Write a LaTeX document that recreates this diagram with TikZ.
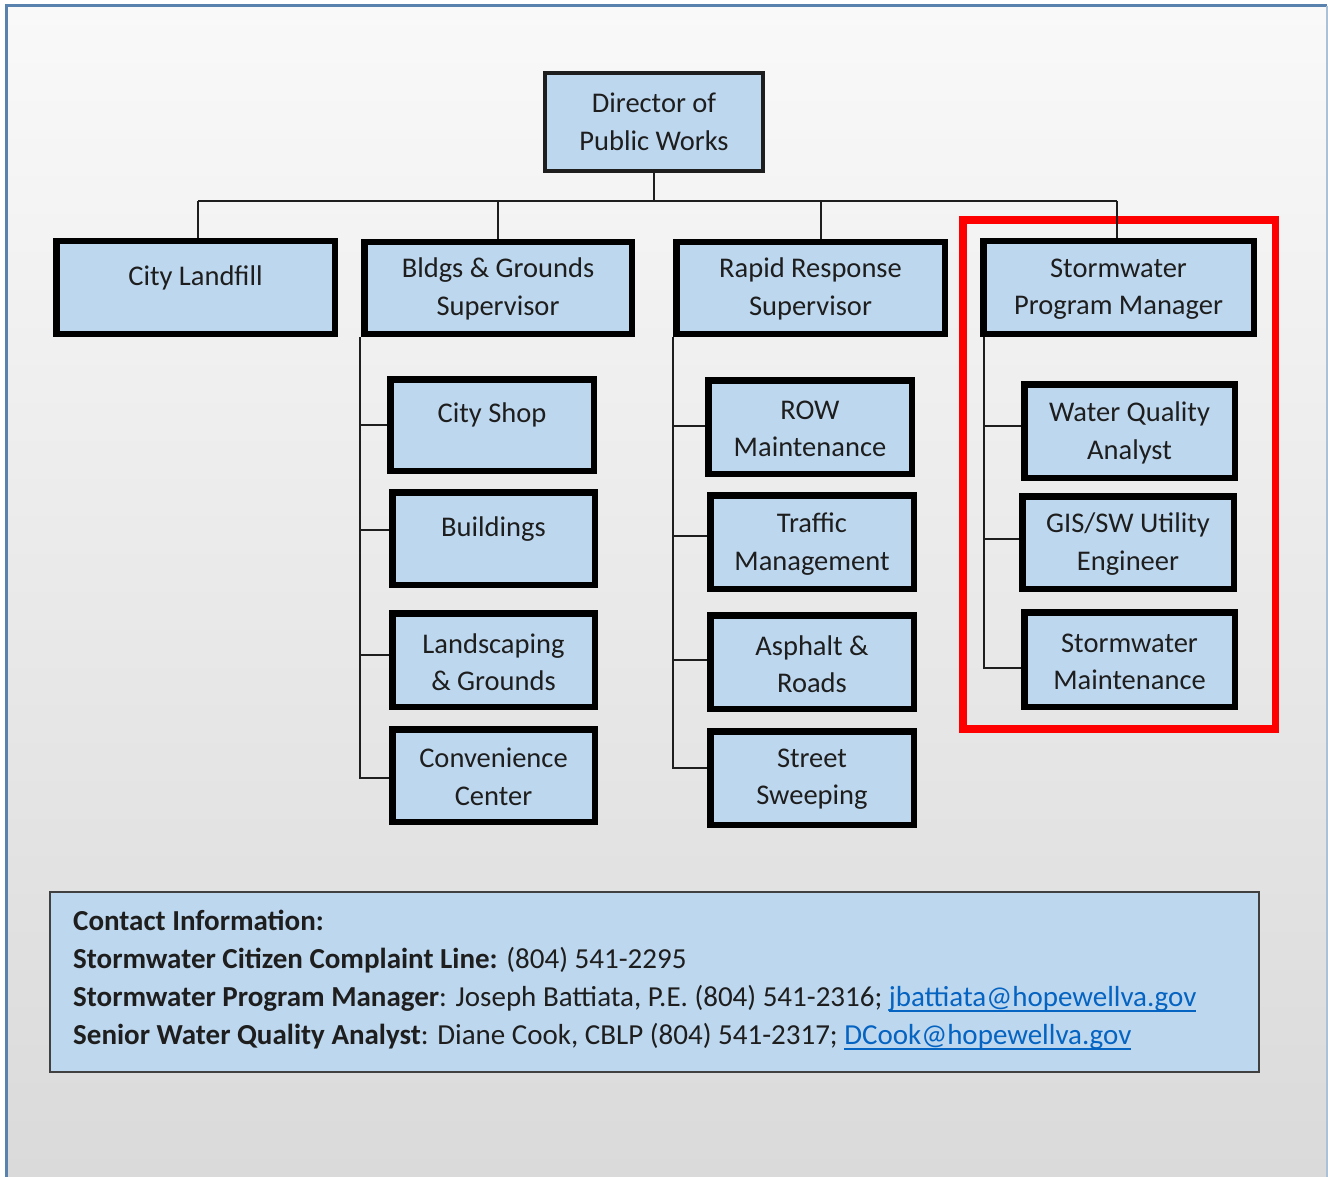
\documentclass[tikz,border=0pt]{standalone}
\usepackage{fontspec}
\setmainfont{Carlito}
\definecolor{boxblue}{HTML}{BDD7EE}
\definecolor{linkblue}{HTML}{0563C1}
\definecolor{framebl}{HTML}{5A82AE}
\definecolor{ink}{HTML}{1E1E1E}
\newcommand\orgbox[7]{%
  \node[orgbox, minimum width={#4-#2-6.5}, minimum height={#5-#3-6.5}] (#1) at ({(#2+#4)/2},{(#3+#5)/2}) {};
  \node[lbl] (#1-t) at ({(#2+#4)/2},#6) {#7};}
\newcommand\ulnk[1]{\textcolor{linkblue}{\setbox0\hbox{#1}\rlap{\rule[-5pt]{\wd0}{2.2pt}}\box0}}
\begin{document}
\begin{tikzpicture}[x=1pt,y=-1pt,
  every node/.style={inner sep=0pt},
  orgbox/.style={draw=black, line width=6.5pt, fill=boxblue},
  dirbox/.style={draw=ink, line width=3.5pt, fill=boxblue},
  lbl/.style={align=center, font=\fontsize{28.5}{37.5}\selectfont, text=ink},
  ctext/.style={align=left, font=\fontsize{29}{38}\selectfont, text=ink},
  conn/.style={draw=ink, line width=1.8pt}]
\useasboundingbox (0,0) rectangle (1328,1177);
\fill[white] (0,0) rectangle (1328,1177);
\shade[top color={rgb,255:red,249;green,249;blue,249}, bottom color={rgb,255:red,218;green,218;blue,218}] (6,6) rectangle (1327,1177);
\draw[framebl, line width=3pt] (6,1190) -- (6,6) -- (1327,6);
\draw[framebl!50, line width=1.5pt] (1327,6) -- (1327,1190);

% director
\node[dirbox, minimum width=218, minimum height=98] (dir) at (654,122) {};
\node[lbl] (dir-t) at (654,122) {Director of\\Public Works};

% level 2
\orgbox{landfill}{53}{238}{338}{337}{278}{City Landfill}
\orgbox{bldgs}{361}{239}{635}{337}{289}{Bldgs \& Grounds\\Supervisor}
\orgbox{rapid}{673}{239}{948}{337}{289}{Rapid Response\\Supervisor}
\orgbox{swpm}{980}{238}{1257}{337}{289}{Stormwater\\Program Manager}

% bldgs children
\orgbox{shop}{387}{376}{597}{474}{415}{City Shop}
\orgbox{buildings}{389}{489}{598}{588}{529}{Buildings}
\orgbox{landsc}{389}{610}{598}{710}{662}{Landscaping\\\& Grounds}
\orgbox{conv}{389}{726}{598}{825}{777}{Convenience\\Center}

% rapid children
\orgbox{row}{705}{377}{915}{477}{429}{ROW\\Maintenance}
\orgbox{traffic}{707}{492}{917}{592}{544}{Traffic\\Management}
\orgbox{asphalt}{707}{612}{917}{712}{664}{Asphalt \&\\Roads}
\orgbox{street}{707}{728}{917}{828}{779}{Street\\Sweeping}

% stormwater children
\orgbox{wqa}{1021}{381}{1238}{481}{433}{Water Quality\\Analyst}
\orgbox{gis}{1019}{493}{1237}{592}{544}{GIS/SW Utility\\Engineer}
\orgbox{swm}{1021}{609}{1238}{710}{662}{Stormwater\\Maintenance}

% highlight
\draw[red, line width=7.5pt] (963,220) rectangle (1275.5,729);

% bus
\coordinate (b1) at (198,201);
\coordinate (b2) at (498,201);
\coordinate (b3) at (821,201);
\coordinate (b4) at (1117,201);
\draw[conn] (dir.south) -- (dir.south |- b1);
\draw[conn] (b1) -- (b4);
\draw[conn] (b1) -- (landfill.north -| b1);
\draw[conn] (b2) -- (bldgs.north -| b2);
\draw[conn] (b3) -- (rapid.north -| b3);
\draw[conn] (b4) -- (swpm.north -| b4);

% junctions on the trunks
\coordinate (jB1) at (360,425);
\coordinate (jB2) at (360,530);
\coordinate (jB3) at (360,655);
\coordinate (jB4) at (360,778);
\coordinate (jR1) at (673,426);
\coordinate (jR2) at (673,536);
\coordinate (jR3) at (673,660);
\coordinate (jR4) at (673,768);
\coordinate (jS1) at (984,426);
\coordinate (jS2) at (984,539);
\coordinate (jS3) at (984,668);

\draw[conn] (bldgs.south -| jB1) -- (jB4) -- (jB4 -| conv.west);
\draw[conn] (jB1) -- (jB1 -| shop.west);
\draw[conn] (jB2) -- (jB2 -| buildings.west);
\draw[conn] (jB3) -- (jB3 -| landsc.west);
\draw[conn] (rapid.south -| jR1) -- (jR4) -- (jR4 -| street.west);
\draw[conn] (jR1) -- (jR1 -| row.west);
\draw[conn] (jR2) -- (jR2 -| traffic.west);
\draw[conn] (jR3) -- (jR3 -| asphalt.west);
\draw[conn] (swpm.south -| jS1) -- (jS3) -- (jS3 -| swm.west);
\draw[conn] (jS1) -- (jS1 -| wqa.west);
\draw[conn] (jS2) -- (jS2 -| gis.west);

% contact
\node[draw=ink!85, line width=2pt, fill=boxblue, minimum width=1209, minimum height=180] (contact) at (654.5,982) {};
\node[ctext, anchor=west] (contact-t) at (73,980) {\textbf{Contact Information:}\\
\textbf{Stormwater Citizen Complaint Line:} (804) 541-2295\\
\textbf{Stormwater Program Manager}: Joseph Battiata, P.E. (804) 541-2316; \ulnk{jbattiata@hopewellva.gov}\\
\textbf{Senior Water Quality Analyst}: Diane Cook, CBLP (804) 541-2317; \ulnk{DCook@hopewellva.gov}};
\end{tikzpicture}
\end{document}
